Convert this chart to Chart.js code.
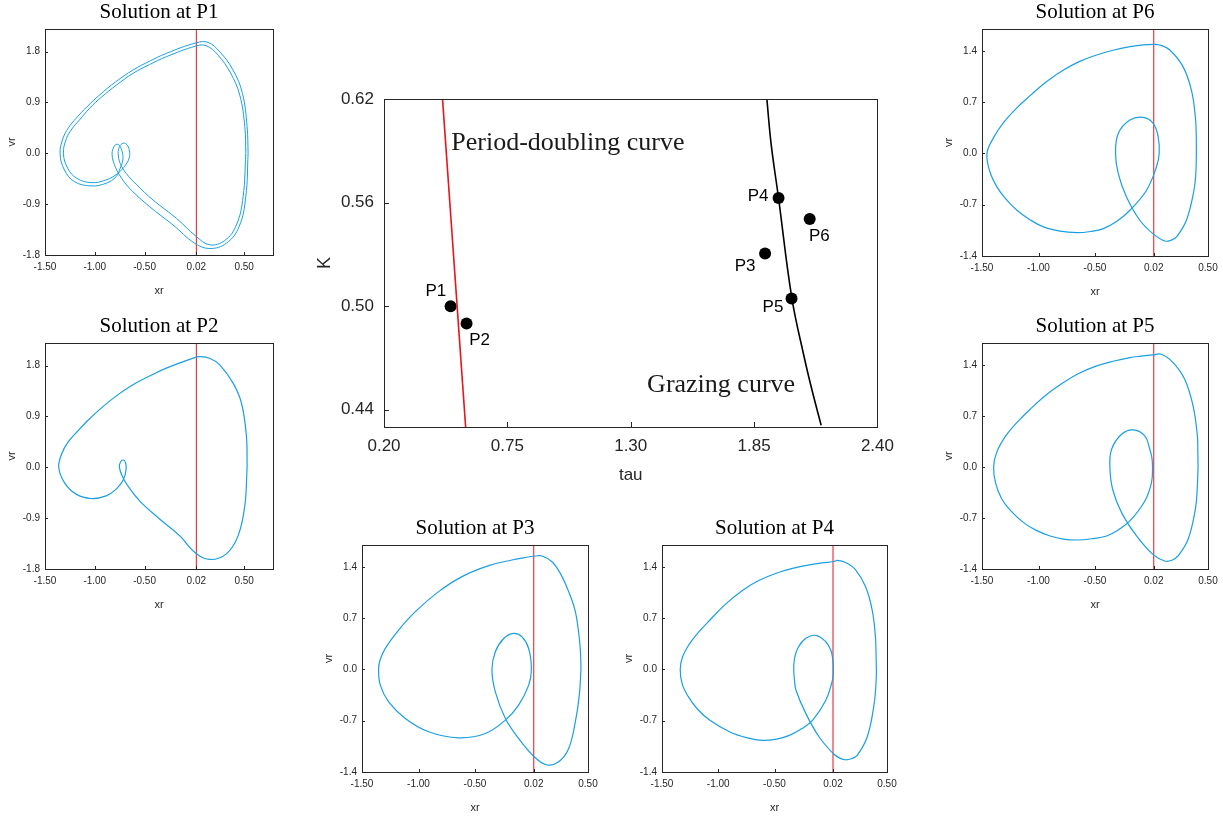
<!DOCTYPE html>
<html>
<head>
<meta charset="utf-8">
<script src="https://cdn.jsdelivr.net/npm/chart.js@4.4.0/dist/chart.umd.min.js"></script>
<style>
  body { margin: 0; background: #fff; width: 1223px; height: 819px; position: relative; overflow: hidden; }
  canvas { position: absolute; }
</style>
</head>
<body>
<canvas id="main"></canvas>
<canvas id="p1"></canvas>
<canvas id="p2"></canvas>
<canvas id="p3"></canvas>
<canvas id="p4"></canvas>
<canvas id="p5"></canvas>
<canvas id="p6"></canvas>
<script>
// ---- main (tau, K) diagram data ----
const tauTicks = [0.2, 0.75, 1.3, 1.85, 2.4];
const kTicks = [0.44, 0.5, 0.56, 0.62];
const periodDoubling = [[0.461, 0.62], [0.564, 0.43]];
const grazing = [[1.907, 0.62], [1.926, 0.594], [1.959, 0.5627], [2.018, 0.505], [2.072, 0.4713], [2.107, 0.452], [2.149, 0.431]];
const pointNames = ['P1', 'P2', 'P3', 'P4', 'P5', 'P6'];
const pointTau = [0.497, 0.568, 1.899, 1.959, 2.017, 2.098];
const pointK = [0.500, 0.490, 0.5305, 0.5627, 0.5045, 0.5505];

// ---- phase portraits (xr, vr) ----
const xrTicks = [-1.5, -1.0, -0.5, 0.02, 0.5];
const vrTicksWide = [-1.8, -0.9, 0, 0.9, 1.8];
const vrTicks = [-1.4, -0.7, 0, 0.7, 1.4];
const switchX = 0.02;

const p1OrbitA = [
  [0.54, 0], [0.53, 0.471], [0.483, 1.061], [0.389, 1.473], [0.255, 1.797], [0.138, 1.962], [0.02, 1.956],
  [-0.282, 1.768], [-0.45, 1.63], [-0.617, 1.473], [-0.79, 1.265], [-0.953, 1.031], [-1.075, 0.83], [-1.188, 0.619],
  [-1.265, 0.45], [-1.318, 0.27], [-1.349, 0],
  [-1.305, -0.295], [-1.205, -0.501], [-1.037, -0.577], [-0.886, -0.53], [-0.785, -0.412], [-0.745, -0.265],
  [-0.718, -0.118], [-0.725, 0.029], [-0.752, 0.136], [-0.785, 0.159], [-0.815, 0.088], [-0.826, -0.029],
  [-0.802, -0.206], [-0.752, -0.383], [-0.651, -0.619], [-0.45, -0.943], [-0.215, -1.267], [0.003, -1.591],
  [0.154, -1.685], [0.322, -1.591], [0.45, -1.296], [0.517, -0.766], [0.54, 0]
];
const p1OrbitB = [
  [0.517, 0], [0.507, 0.471], [0.456, 1.031], [0.362, 1.426], [0.238, 1.738], [0.121, 1.903], [0.013, 1.897],
  [-0.282, 1.709], [-0.45, 1.57], [-0.617, 1.414], [-0.78, 1.21], [-0.936, 0.99], [-1.05, 0.80], [-1.154, 0.589],
  [-1.23, 0.43], [-1.285, 0.26], [-1.315, 0],
  [-1.272, -0.265], [-1.181, -0.442], [-1.037, -0.519], [-0.886, -0.471], [-0.768, -0.354], [-0.691, -0.206],
  [-0.651, -0.059], [-0.658, 0.088], [-0.685, 0.165], [-0.718, 0.177], [-0.752, 0.118], [-0.765, 0],
  [-0.745, -0.177], [-0.685, -0.354], [-0.584, -0.548], [-0.416, -0.825], [-0.181, -1.149], [0.02, -1.473],
  [0.154, -1.62], [0.305, -1.544], [0.423, -1.267], [0.49, -0.766], [0.517, 0]
];
const p2Orbit = [
  [0.53, 0], [0.523, 0.552], [0.473, 1.138], [0.389, 1.49], [0.255, 1.813], [0.154, 1.931], [0.054, 1.96],
  [0.003, 1.942], [-0.282, 1.755], [-0.45, 1.615], [-0.617, 1.461], [-0.79, 1.255], [-0.953, 1.021], [-1.075, 0.82],
  [-1.188, 0.61], [-1.27, 0.44], [-1.33, 0.25], [-1.362, 0], [-1.305, -0.27], [-1.188, -0.475], [-1.037, -0.552],
  [-0.886, -0.505], [-0.785, -0.387], [-0.711, -0.211], [-0.685, -0.035], [-0.691, 0.082], [-0.711, 0.129],
  [-0.742, 0.094], [-0.752, -0.006], [-0.725, -0.153], [-0.668, -0.329], [-0.55, -0.593], [-0.349, -0.915],
  [-0.148, -1.209], [0.003, -1.502], [0.154, -1.631], [0.322, -1.532], [0.44, -1.209], [0.507, -0.681], [0.53, 0]
];
const p3Orbit = [
  [0.438, 0], [0.434, 0.22], [0.423, 0.426], [0.388, 0.79], [0.329, 1.063], [0.255, 1.313], [0.181, 1.472],
  [0.093, 1.55], [0.034, 1.55], [-0.07, 1.525], [-0.173, 1.495], [-0.379, 1.418], [-0.615, 1.268], [-0.822, 1.063],
  [-1.028, 0.79], [-1.176, 0.539], [-1.294, 0.289], [-1.34, 0.13], [-1.353, 0], [-1.338, -0.214], [-1.264, -0.442],
  [-1.117, -0.669], [-0.91, -0.851], [-0.645, -0.933], [-0.409, -0.874], [-0.232, -0.692], [-0.114, -0.487],
  [-0.025, -0.214], [-0.001, 0], [-0.025, 0.287], [-0.084, 0.446], [-0.158, 0.492], [-0.246, 0.423], [-0.32, 0.241],
  [-0.35, 0], [-0.32, -0.305], [-0.232, -0.667], [-0.114, -0.942], [0.034, -1.206], [0.137, -1.304], [0.24, -1.26],
  [0.329, -1.078], [0.388, -0.715], [0.423, -0.35], [0.438, 0]
];
const p4Orbit = [
  [0.406, -0.05], [0.403, 0.20], [0.397, 0.447], [0.368, 0.813], [0.309, 1.132], [0.221, 1.361], [0.132, 1.461],
  [0.059, 1.489], [0.024, 1.475], [-0.08, 1.455], [-0.191, 1.429], [-0.34, 1.38], [-0.485, 1.315], [-0.64, 1.215],
  [-0.779, 1.087], [-0.93, 0.90], [-1.074, 0.676], [-1.18, 0.50], [-1.26, 0.34], [-1.318, 0.17], [-1.338, 0],
  [-1.32, -0.20], [-1.265, -0.374], [-1.18, -0.55], [-1.074, -0.694], [-0.897, -0.854], [-0.75, -0.93],
  [-0.603, -0.968], [-0.48, -0.95], [-0.368, -0.90], [-0.26, -0.81], [-0.162, -0.694], [-0.044, -0.42],
  [0.015, -0.146], [0.024, 0], [0.016, 0.16], [0.0, 0.265], [-0.044, 0.379], [-0.132, 0.466], [-0.221, 0.425],
  [-0.29, 0.30], [-0.322, 0.15], [-0.329, 0], [-0.322, -0.15], [-0.309, -0.283], [-0.221, -0.603], [-0.103, -0.922],
  [0.024, -1.151], [0.08, -1.21], [0.132, -1.233], [0.19, -1.215], [0.235, -1.174], [0.324, -0.922], [0.382, -0.511],
  [0.400, -0.25], [0.406, -0.05]
];
const p5Orbit = [
  [0.412, 0], [0.410, 0.21], [0.406, 0.425], [0.368, 0.837], [0.294, 1.203], [0.191, 1.432], [0.088, 1.546],
  [0.012, 1.537], [-0.09, 1.52], [-0.191, 1.50], [-0.34, 1.45], [-0.485, 1.386], [-0.64, 1.285], [-0.779, 1.157],
  [-0.93, 0.99], [-1.074, 0.791], [-1.19, 0.61], [-1.29, 0.425], [-1.37, 0.20], [-1.397, 0], [-1.38, -0.22],
  [-1.324, -0.444], [-1.24, -0.61], [-1.132, -0.764], [-1.02, -0.87], [-0.897, -0.947], [-0.78, -0.99],
  [-0.662, -1.002], [-0.53, -0.985], [-0.397, -0.947], [-0.29, -0.86], [-0.191, -0.741], [-0.059, -0.467],
  [0.0, -0.215], [0.009, 0], [0.003, 0.13], [-0.015, 0.242], [-0.059, 0.425], [-0.162, 0.508], [-0.265, 0.448],
  [-0.353, 0.242], [-0.368, 0], [-0.344, -0.306], [-0.265, -0.627], [-0.132, -0.947], [0.012, -1.199],
  [0.118, -1.29], [0.18, -1.28], [0.235, -1.221], [0.324, -0.993], [0.388, -0.581], [0.405, -0.29], [0.412, 0]
];
const p6Orbit = [
  [0.397, 0], [0.396, 0.25], [0.388, 0.502], [0.353, 0.866], [0.279, 1.186], [0.162, 1.414], [0.074, 1.482],
  [0.012, 1.491], [-0.09, 1.48], [-0.191, 1.459], [-0.34, 1.41], [-0.485, 1.345], [-0.64, 1.255], [-0.779, 1.14],
  [-0.93, 0.98], [-1.074, 0.79], [-1.20, 0.61], [-1.31, 0.42], [-1.40, 0.21], [-1.456, 0], [-1.43, -0.25],
  [-1.368, -0.456], [-1.29, -0.62], [-1.191, -0.775], [-1.08, -0.90], [-0.956, -1.003], [-0.81, -1.06],
  [-0.662, -1.081], [-0.54, -1.065], [-0.426, -1.026], [-0.30, -0.92], [-0.191, -0.775], [-0.044, -0.502],
  [0.044, -0.182], [0.068, 0], [0.059, 0.228], [0.015, 0.41], [-0.074, 0.492], [-0.191, 0.456], [-0.294, 0.274],
  [-0.318, 0], [-0.294, -0.274], [-0.221, -0.593], [-0.103, -0.912], [0.012, -1.094], [0.118, -1.195],
  [0.18, -1.18], [0.221, -1.14], [0.309, -0.912], [0.376, -0.502], [0.393, -0.25], [0.397, 0]
];

const SANS = "'Liberation Sans', Arial, sans-serif";
const SERIF = "'Liberation Serif', 'Times New Roman', serif";
const AXIS = '#262626';
const BLUE = '#1a9fe0';
const RED = '#e8141c';

const toXY = pts => pts.map(([x, y]) => ({ x, y }));

// MATLAB-like box with inward ticks
const boxTicks = {
  id: 'boxTicks',
  afterDatasetsDraw(chart, args, opts) {
    const { ctx, chartArea: a, scales: { x, y } } = chart;
    const len = opts.len || 3;
    ctx.save();
    ctx.strokeStyle = AXIS;
    ctx.lineWidth = 1;
    ctx.beginPath();
    x.ticks.forEach(t => {
      const px = Math.round(x.getPixelForValue(t.value)) + 0.5;
      ctx.moveTo(px, a.bottom); ctx.lineTo(px, a.bottom - len);
    });
    y.ticks.forEach(t => {
      const py = Math.round(y.getPixelForValue(t.value)) + 0.5;
      ctx.moveTo(a.left, py); ctx.lineTo(a.left + len, py);
    });
    ctx.stroke();
    ctx.strokeRect(Math.round(a.left) + 0.5, Math.round(a.top) + 0.5, Math.round(a.right - a.left), Math.round(a.bottom - a.top));
    ctx.restore();
  }
};

// text placed at data coordinates
const dataText = {
  id: 'dataText',
  afterDatasetsDraw(chart, args, opts) {
    const { ctx, scales: { x, y } } = chart;
    (opts.items || []).forEach(it => {
      ctx.save();
      ctx.font = it.font;
      ctx.fillStyle = it.color || '#000';
      ctx.textAlign = it.align || 'center';
      ctx.textBaseline = 'middle';
      ctx.fillText(it.text, x.getPixelForValue(it.x), y.getPixelForValue(it.y));
      ctx.restore();
    });
  }
};

function place(canvas, left, top, w, h) {
  canvas.width = w; canvas.height = h;
  Object.assign(canvas.style, { left: left + 'px', top: top + 'px', width: w + 'px', height: h + 'px' });
}

function phasePanel(id, rect, title, orbits, xMax, yMin, yMax, yTicks) {
  const [pl, pt, pr, pb] = rect;
  const canvas = document.getElementById(id);
  place(canvas, pl - 45, pt - 29, 45 + (pr - pl) + 16, 29 + (pb - pt) + 41);

  const datasets = orbits.map(o => ({
    data: toXY(o),
    borderColor: BLUE,
    borderWidth: orbits.length > 1 ? 1 : 1.2,
    pointRadius: 0,
    tension: 0.4,
    fill: false
  }));
  datasets.push({
    data: toXY([[switchX, yMin], [switchX, yMax]]),
    borderColor: RED,
    borderWidth: 1,
    pointRadius: 0,
    tension: 0
  });

  new Chart(canvas, {
    type: 'line',
    data: { datasets },
    options: {
      responsive: false,
      devicePixelRatio: 1,
      animation: false,
      elements: { line: { tension: 0.4, capBezierPoints: false } },
      layout: { padding: { left: 0, right: 16, top: 0, bottom: 0 } },
      scales: {
        x: {
          type: 'linear', min: -1.5, max: xMax,
          afterBuildTicks: s => { s.ticks = xrTicks.map(v => ({ value: v })); },
          afterFit: s => { s.height = 41; },
          grid: { display: false, drawTicks: false },
          border: { display: false },
          ticks: { callback: v => v.toFixed(2), font: { family: SANS, size: 10 }, color: AXIS, padding: 6, maxRotation: 0, autoSkip: false },
          title: { display: true, text: 'xr', font: { family: SANS, size: 11, lineHeight: 1 }, color: AXIS, padding: 0 }
        },
        y: {
          type: 'linear', min: yMin, max: yMax,
          afterBuildTicks: s => { s.ticks = yTicks.map(v => ({ value: v })); },
          afterFit: s => { s.width = 45; },
          grid: { display: false, drawTicks: false },
          border: { display: false },
          ticks: { callback: v => v.toFixed(1), font: { family: SANS, size: 10 }, color: AXIS, padding: 5, autoSkip: false },
          title: { display: true, text: 'vr', font: { family: SANS, size: 11, lineHeight: 1 }, color: AXIS, padding: { top: 6, bottom: 0 } }
        }
      },
      plugins: {
        legend: { display: false },
        tooltip: { enabled: false },
        title: {
          display: true, text: title, fullSize: false, color: '#000',
          font: { family: SERIF, size: 21, weight: 'normal', lineHeight: 1 },
          padding: { top: 1.5, bottom: 6.5 }
        },
        boxTicks: { len: 3 }
      }
    },
    plugins: [boxTicks]
  });
}

// ---- main bifurcation diagram ----
(function () {
  const canvas = document.getElementById('main');
  place(canvas, 310, 79, 593, 407);
  const labelOffsets = [[-0.066, 0.0085], [0.058, -0.0095], [-0.089, -0.0072], [-0.091, 0.0008], [-0.083, -0.0051], [0.043, -0.0102]];
  const items = pointNames.map((n, i) => ({
    text: n, x: pointTau[i] + labelOffsets[i][0], y: pointK[i] + labelOffsets[i][1], font: '17px ' + SANS, color: '#000'
  }));
  items.push({ text: 'Period-doubling curve', x: 0.50, y: 0.5943, align: 'left', font: '26px ' + SERIF, color: '#1a1a1a' });
  items.push({ text: 'Grazing curve', x: 1.373, y: 0.4545, align: 'left', font: '26px ' + SERIF, color: '#1a1a1a' });

  new Chart(canvas, {
    type: 'line',
    data: {
      datasets: [
        { data: toXY(periodDoubling), borderColor: RED, borderWidth: 1.6, pointRadius: 0, tension: 0 },
        { data: toXY(grazing), borderColor: '#000', borderWidth: 1.6, pointRadius: 0, tension: 0.4 },
        { data: pointTau.map((t, i) => ({ x: t, y: pointK[i] })), showLine: false, pointRadius: 6, backgroundColor: '#000', borderColor: '#000', borderWidth: 0 }
      ]
    },
    options: {
      responsive: false,
      devicePixelRatio: 1,
      animation: false,
      layout: { padding: { left: 0, right: 25, top: 20, bottom: 0 } },
      scales: {
        x: {
          type: 'linear', min: 0.2, max: 2.4,
          afterBuildTicks: s => { s.ticks = tauTicks.map(v => ({ value: v })); },
          afterFit: s => { s.height = 59; },
          grid: { display: false, drawTicks: false },
          border: { display: false },
          ticks: { callback: v => v.toFixed(2), font: { family: SANS, size: 17 }, color: AXIS, padding: 9, maxRotation: 0, autoSkip: false },
          title: { display: true, text: 'tau', font: { family: SANS, size: 17, lineHeight: 1.2 }, color: AXIS, padding: 0 }
        },
        y: {
          type: 'linear', min: 0.43, max: 0.62,
          afterBuildTicks: s => { s.ticks = kTicks.map(v => ({ value: v })); },
          afterFit: s => { s.width = 74; },
          grid: { display: false, drawTicks: false },
          border: { display: false },
          ticks: { callback: v => v.toFixed(2), font: { family: SANS, size: 17 }, color: AXIS, padding: 10, autoSkip: false },
          title: { display: true, text: 'K', font: { family: SANS, size: 18, lineHeight: 1.2 }, color: AXIS, padding: { top: 4, bottom: 0 } }
        }
      },
      plugins: {
        legend: { display: false },
        tooltip: { enabled: false },
        boxTicks: { len: 5 },
        dataText: { items }
      }
    },
    plugins: [boxTicks, dataText]
  });
})();

phasePanel('p1', [45, 29, 273, 255], 'Solution at P1', [p1OrbitA, p1OrbitB], 0.79, -1.8, 2.2, vrTicksWide);
phasePanel('p2', [45, 343, 273, 569], 'Solution at P2', [p2Orbit], 0.79, -1.8, 2.2, vrTicksWide);
phasePanel('p3', [362, 545, 588, 772], 'Solution at P3', [p3Orbit], 0.5, -1.4, 1.7, vrTicks);
phasePanel('p4', [662, 545, 887, 772], 'Solution at P4', [p4Orbit], 0.5, -1.4, 1.7, vrTicks);
phasePanel('p5', [982, 343, 1208, 569], 'Solution at P5', [p5Orbit], 0.5, -1.4, 1.7, vrTicks);
phasePanel('p6', [982, 29, 1208, 256], 'Solution at P6', [p6Orbit], 0.5, -1.4, 1.7, vrTicks);
</script>
</body>
</html>
